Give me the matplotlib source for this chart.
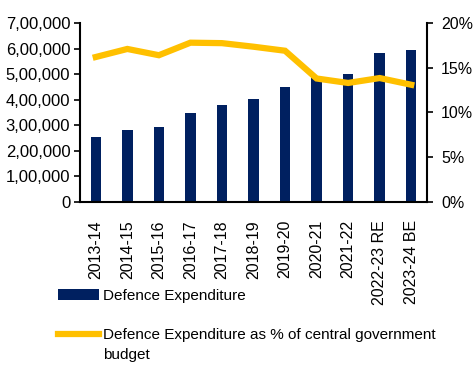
import numpy as np
import matplotlib.pyplot as plt
from matplotlib.ticker import FuncFormatter

# ------------------------------  DATA  ---------------------------------
YEARS = ['2013-14', '2014-15', '2015-16', '2016-17', '2017-18', '2018-19',
         '2019-20', '2020-21', '2021-22', '2022-23 RE', '2023-24 BE']
EXPENDITURE = [253000, 283000, 294000, 349000, 380000, 403000,
               450000, 487000, 500000, 584000, 594000]
SHARE_PCT = [16.2, 17.1, 16.4, 17.8, 17.75, 17.35, 16.9, 13.8, 13.3, 13.85, 13.1]

BAR_COLOR = '#002060'
LINE_COLOR = '#FFC000'


def indian_fmt(v, pos):
    v = int(round(v))
    if v == 0:
        return '0'
    s = str(v)
    last3, rest = s[-3:], s[:-3]
    parts = []
    while len(rest) > 2:
        parts.insert(0, rest[-2:])
        rest = rest[:-2]
    if rest:
        parts.insert(0, rest)
    return ','.join(parts + [last3])


# ------------------------------  MAIN BODY  -----------------------------
plt.rcParams['font.family'] = ['Liberation Sans', 'DejaVu Sans']
fig = plt.figure(figsize=(4.76, 3.85), dpi=100)
ax = fig.add_axes([80 / 476, 1 - 202 / 385, 347 / 476, 179 / 385])
x = np.arange(len(YEARS))
bars = ax.bar(x, EXPENDITURE, width=0.33, color=BAR_COLOR,
              label='Defence Expenditure', zorder=2)
ax.set_ylim(0, 700000)
ax.set_yticks(np.arange(0, 700001, 100000))
ax.yaxis.set_major_formatter(FuncFormatter(indian_fmt))
ax.set_xlim(-0.5, len(YEARS) - 0.5)
ax.set_xticks(x)
ax.set_xticklabels(YEARS, rotation=90)
ax.tick_params(axis='x', length=0, labelsize=11.5, pad=13)
ax.tick_params(axis='y', length=4, width=1.2, labelsize=12, pad=3)
for s in ['top', 'right']:
    ax.spines[s].set_visible(False)
for s in ['left', 'bottom']:
    ax.spines[s].set_linewidth(1.5)

ax2 = ax.twinx()
line, = ax2.plot(x, SHARE_PCT, color=LINE_COLOR, lw=4.5,
                 solid_joinstyle='miter', zorder=3,
                 label='Defence Expenditure as % of central government')
ax2.set_ylim(0, 20)
ax2.set_yticks(np.arange(0, 21, 5))
ax2.yaxis.set_major_formatter(FuncFormatter(lambda v, p: f'{v:.0f}%'))
ax2.tick_params(axis='y', length=4, width=1.2, labelsize=11.5, pad=6)
for s in ['top', 'left', 'bottom']:
    ax2.spines[s].set_visible(False)
ax2.spines['right'].set_linewidth(1.5)

leg = fig.legend(handles=[bars, line], loc='upper left',
                 bbox_to_anchor=(52 / 476, 1 - 283 / 385), frameon=False,
                 fontsize=11, handlelength=2.7, handletextpad=0.25,
                 labelspacing=1.65, borderaxespad=0)

# wrapped second line of the long legend label
fig.canvas.draw()
bb = leg.get_texts()[1].get_window_extent().transformed(fig.transFigure.inverted())
fig.text(bb.x0, bb.y0 - 6 / 385, 'budget', fontsize=11, va='top', ha='left')

plt.savefig('out.png', dpi=100)
print('Done!')
# ------------------------------ END -----------------------------------
